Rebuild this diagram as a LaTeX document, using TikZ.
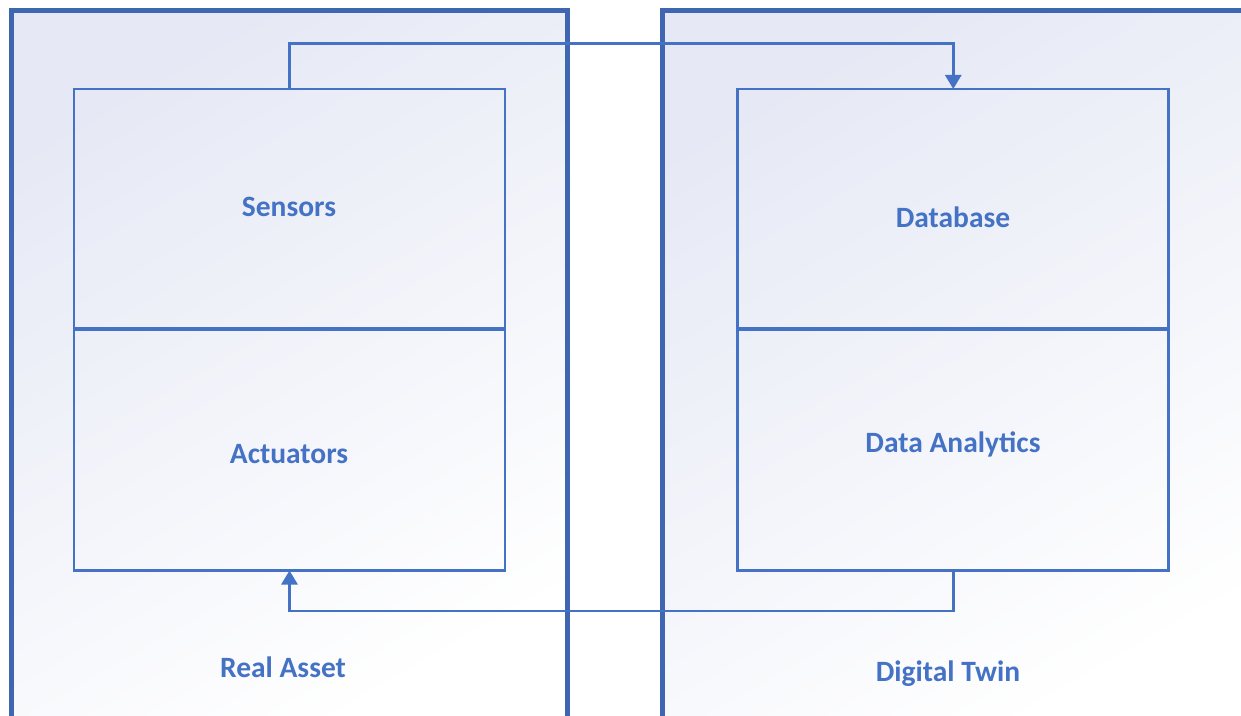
\documentclass[tikz,border=0pt]{standalone}
\usepackage{fontspec}
\setmainfont{Carlito}
\usetikzlibrary{arrows.meta}
\definecolor{outerblue}{HTML}{3F67B1}
\definecolor{innerblue}{HTML}{4472C4}
\definecolor{lav}{HTML}{E6E9F5}
\tikzset{
  outerbox/.style={draw=outerblue, line width=5pt},
  innerbox/.style={draw=innerblue, line width=2.8pt, minimum width=431pt, inner sep=0pt, outer sep=0pt},
  divider/.style={draw=innerblue, line width=4pt},
  conn/.style={draw=innerblue, line width=2.8pt, -{Triangle[width=16pt,length=14pt]}},
  lbl/.style={text=innerblue, font=\bfseries\fontsize{29.5}{34}\selectfont, inner sep=0pt},
  bgshade/.style={top color=lav, middle color=lav!35!white, bottom color=white, shading angle=30}
}
\begin{document}
\begin{tikzpicture}[x=1pt,y=1pt]
\useasboundingbox (0,0) rectangle (1241,715);
\clip (0,0) rectangle (1241,715);
% backgrounds
\shade[bgshade] (11,-20) rectangle (567.5,704);
\shade[bgshade] (662.5,-20) rectangle (1260,704);
\draw[outerbox] (11,-20) -- (11,704) -- (567.5,704) -- (567.5,-20);
\draw[outerbox] (662.5,-20) -- (662.5,704) -- (1260,704);
% inner boxes
\node[innerbox, minimum height=240.3pt] (sensors) at (289.5,505.85) {};
\node[innerbox, minimum height=241.2pt] (actuators) at (289.5,265.1) {};
\node[innerbox, minimum height=240.3pt] (database) at (953.25,505.85) {};
\node[innerbox, minimum height=241.2pt] (analytics) at (953.25,265.1) {};
\draw[divider] (sensors.south west) -- (sensors.south east);
\draw[divider] (database.south west) -- (database.south east);
% labels
\node[lbl] (tsensors) at (289,508) {Sensors};
\node[lbl] (tactuators) at (289,261) {Actuators};
\node[lbl] (tdatabase) at (953,498) {Database};
\node[lbl] (tanalytics) at (953,271) {Data Analytics};
\node[lbl] (treal) at (283,48) {Real Asset};
\node[lbl] (ttwin) at (948,41) {Digital Twin};
% connectors
\draw[conn] (sensors.north) -- ++(0,45.3) -| (database.north);
\draw[conn] (analytics.south) -- ++(0,-40.5) -| (actuators.south);
\end{tikzpicture}
\end{document}
